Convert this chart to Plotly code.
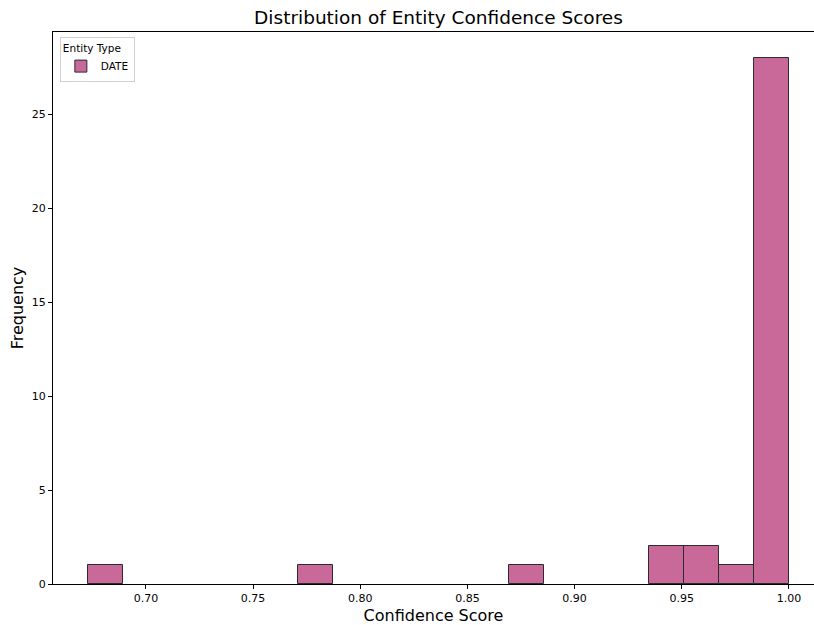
import numpy as np
import plotly.graph_objects as go

# Histogram of confidence scores for the DATE entity type
bin_start = 0.673
bin_end = 1.0
n_bins = 20
counts = [1, 0, 0, 0, 0, 0, 1, 0, 0, 0, 0, 0, 1, 0, 0, 0, 2, 2, 1, 28]
entity_type = "DATE"

x_ticks = [0.70, 0.75, 0.80, 0.85, 0.90, 0.95, 1.00]
y_ticks = [0, 5, 10, 15, 20, 25]

edges = np.linspace(bin_start, bin_end, n_bins + 1)
centers = (edges[:-1] + edges[1:]) / 2
width = edges[1] - edges[0]

# empty bins get no bar (and no outline along the baseline)
shown = [i for i, c in enumerate(counts) if c > 0]

FONT = "DejaVu Sans"
BAR_FILL = "#c9699a"
BAR_EDGE = "#2b2b2b"

fig = go.Figure()
fig.add_trace(go.Bar(
    x=[centers[i] for i in shown],
    y=[counts[i] for i in shown],
    width=width,
    name=entity_type,
    marker=dict(color=BAR_FILL, line=dict(color=BAR_EDGE, width=1)),
    showlegend=True,
))

# matplotlib-style 5% padding on the data extents
pad = (bin_end - bin_start) * 0.05
x_lo = bin_start - pad
plot_w = 814 - 53
units_per_px = (bin_end - bin_start + 2 * pad) / (824 - 53)
x_hi = x_lo + plot_w * units_per_px

fig.update_layout(
    width=814,
    height=625,
    margin=dict(l=53, r=0, t=32, b=41),
    paper_bgcolor="white",
    plot_bgcolor="white",
    font=dict(family=FONT, color="#000000"),
    bargap=0,
    title=dict(
        text="Distribution of Entity Confidence Scores",
        font=dict(family=FONT, size=18.5, color="#000000"),
        x=(53 + 824) / 2 / 814,
        xanchor="center",
        y=1 - 18 / 625,
        yanchor="middle",
    ),
    xaxis=dict(
        range=[x_lo, x_hi],
        tickvals=x_ticks,
        ticktext=[f"{v:.2f}" for v in x_ticks],
        tickfont=dict(size=11, family=FONT, color="#000000"),
        ticks="outside",
        ticklen=4,
        tickwidth=1,
        tickcolor="#000000",
        showline=True,
        linecolor="#000000",
        linewidth=1,
        mirror=True,
        showgrid=False,
        zeroline=False,
        title=dict(text="Confidence Score", font=dict(size=16, family=FONT, color="#000000"), standoff=6),
    ),
    yaxis=dict(
        range=[0, max(counts) * 1.05],
        tickvals=y_ticks,
        tickfont=dict(size=11, family=FONT, color="#000000"),
        ticks="outside",
        ticklen=4,
        tickwidth=1,
        tickcolor="#000000",
        showline=True,
        linecolor="#000000",
        linewidth=1,
        showgrid=False,
        zeroline=False,
        title=dict(text="Frequency", font=dict(size=16, family=FONT, color="#000000"), standoff=4),
    ),
    legend=dict(
        title=dict(text="Entity Type", font=dict(size=10.5, family=FONT, color="#000000")),
        font=dict(size=10.5, family=FONT, color="#000000"),
        x=0.009,
        y=0.991,
        xanchor="left",
        yanchor="top",
        bgcolor="rgba(255,255,255,0.8)",
        bordercolor="#d0d0d0",
        borderwidth=1,
        tracegroupgap=0,
    ),
)

fig.write_html("out.html")
